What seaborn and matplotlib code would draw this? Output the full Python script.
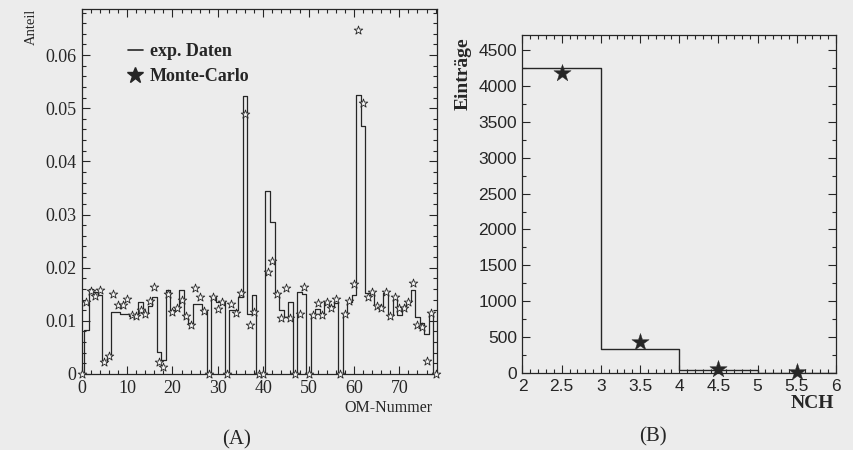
import numpy as np
import pandas as pd
import matplotlib
matplotlib.use("Agg")
import matplotlib.pyplot as plt
from matplotlib.lines import Line2D
from matplotlib.ticker import MultipleLocator
import seaborn as sns

# --- Panel A: fraction per optical module (OM) ---
om_nummer = list(range(79))
anteil_daten = [
    0.0, 0.0083, 0.0159, 0.0155, 0.0148, 0.0023, 0.0033, 0.0117, 0.0117, 0.0112,
    0.0112, 0.0110, 0.0110, 0.0135, 0.0115, 0.0128, 0.0145, 0.0042, 0.0026, 0.0158,
    0.0120, 0.0125, 0.0158, 0.0105, 0.0095, 0.0131, 0.0131, 0.0118, 0.0, 0.0145,
    0.0136, 0.0136, 0.0, 0.0120, 0.0120, 0.0145, 0.0522, 0.0112, 0.0149, 0.0,
    0.0, 0.0345, 0.0285, 0.0152, 0.0120, 0.0108, 0.0136, 0.0, 0.0154, 0.0150,
    0.0, 0.0112, 0.0122, 0.0114, 0.0137, 0.0127, 0.0133, 0.0, 0.0112, 0.0136,
    0.0148, 0.0525, 0.0466, 0.0152, 0.0152, 0.0130, 0.0125, 0.0152, 0.0111, 0.0142,
    0.0111, 0.0122, 0.0136, 0.0158, 0.0108, 0.0095, 0.0075, 0.0115, 0.0,
]
anteil_mc = [
    0.0, 0.0136, 0.0157, 0.0147, 0.0158, 0.0022, 0.0034, 0.0150, 0.0129, 0.0129,
    0.0142, 0.0111, 0.0109, 0.0120, 0.0112, 0.0137, 0.0163, 0.0022, 0.0014, 0.0150,
    0.0116, 0.0125, 0.0139, 0.0109, 0.0093, 0.0161, 0.0144, 0.0118, 0.0, 0.0144,
    0.0122, 0.0136, 0.0, 0.0131, 0.0115, 0.0153, 0.0490, 0.0093, 0.0117, 0.0,
    0.0, 0.0192, 0.0212, 0.0150, 0.0105, 0.0161, 0.0105, 0.0, 0.0113, 0.0163,
    0.0, 0.0111, 0.0133, 0.0111, 0.0136, 0.0124, 0.0142, 0.0, 0.0112, 0.0137,
    0.0169, 0.0648, 0.0510, 0.0145, 0.0155, 0.0127, 0.0125, 0.0154, 0.0110, 0.0144,
    0.0124, 0.0125, 0.0136, 0.0171, 0.0092, 0.0089, 0.0024, 0.0114, 0.0,
]
a_yticks = [0, 0.01, 0.02, 0.03, 0.04, 0.05, 0.06]
a_yticklabels = ["0", "0.01", "0.02", "0.03", "0.04", "0.05", "0.06"]
a_xticks = [0, 10, 20, 30, 40, 50, 60, 70]

# --- Panel B: number of hit channels ---
nch_mitte = [2.5, 3.5, 4.5, 5.5]
eintraege_daten = [4250, 340, 35, 5]
eintraege_mc = [4175, 430, 55, 10]
b_xticks = [2, 2.5, 3, 3.5, 4, 4.5, 5, 5.5, 6]
b_xticklabels = ["2", "2.5", "3", "3.5", "4", "4.5", "5", "5.5", "6"]
b_yticks = list(range(0, 5000, 500))

df_a = pd.DataFrame({"om": om_nummer, "daten": anteil_daten, "mc": anteil_mc})
df_b = pd.DataFrame({"nch": nch_mitte, "daten": eintraege_daten, "mc": eintraege_mc})

sns.set_style("ticks")
paper = "#ececec"
ink = "#262626"
serif = ["Liberation Serif", "DejaVu Serif"]
sans = ["Liberation Sans", "DejaVu Sans"]
plt.rcParams.update({
    "font.family": serif,
    "text.color": ink,
    "axes.edgecolor": ink,
    "xtick.color": ink,
    "ytick.color": ink,
    "axes.linewidth": 0.9,
})

fig = plt.figure(figsize=(8.54, 4.5), dpi=100, facecolor=paper)
axA = fig.add_axes([0.0957, 0.1689, 0.4160, 0.8104])
axB = fig.add_axes([0.6118, 0.1711, 0.3671, 0.7511])
for ax in (axA, axB):
    ax.set_facecolor(paper)

# Panel A histogram and MC points
sns.histplot(data=df_a, x="om", weights="daten",
             bins=[i - 0.5 for i in range(80)],
             element="step", fill=False, color=ink, linewidth=0.9, ax=axA)
sns.scatterplot(data=df_a, x="om", y="mc", marker="*", s=42, color="#f4f4f4",
                edgecolor=ink, linewidth=0.6, zorder=3, ax=axA, clip_on=False)
axA.set_xlim(0, 78.3)
axA.set_ylim(0, 0.0686)
axA.set_xticks(a_xticks)
axA.set_xticklabels([str(t) for t in a_xticks])
axA.set_yticks(a_yticks)
axA.set_yticklabels(a_yticklabels)
axA.xaxis.set_minor_locator(MultipleLocator(2))
axA.yaxis.set_minor_locator(MultipleLocator(0.002))
axA.set_xlabel("")
axA.set_ylabel("")

handles = [Line2D([], [], color=ink, lw=1.2),
           Line2D([], [], marker="*", ls="none", color=ink, markersize=12)]
axA.legend(handles, ["exp. Daten", "Monte-Carlo"], loc="upper left",
           bbox_to_anchor=(0.085, 0.952), frameon=False,
           prop=dict(family=serif, weight="bold", size=13),
           handlelength=0.8, handletextpad=0.4, labelspacing=0.45)

# Panel B histogram and MC points
sns.histplot(data=df_b, x="nch", weights="daten", bins=[2, 3, 4, 5, 6],
             element="step", fill=False, color=ink, linewidth=1.0, ax=axB)
sns.scatterplot(data=df_b, x="nch", y="mc", marker="*", s=170, color=ink,
                edgecolor=ink, linewidth=0.3, zorder=3, ax=axB, clip_on=False)
axB.set_xlim(2, 6)
axB.set_ylim(0, 4710)
axB.set_xticks(b_xticks)
axB.set_xticklabels(b_xticklabels)
axB.set_yticks(b_yticks)
axB.set_yticklabels([str(t) for t in b_yticks])
axB.xaxis.set_minor_locator(MultipleLocator(0.1))
axB.yaxis.set_minor_locator(MultipleLocator(250))
axB.set_xlabel("")
axB.set_ylabel("")

for ax, fam in ((axA, serif), (axB, sans)):
    ax.tick_params(which="both", direction="in", top=True, right=True, width=0.8)
    ax.tick_params(which="major", length=6, labelsize=13, pad=4)
    ax.tick_params(which="minor", length=3)
    for lab in ax.get_xticklabels() + ax.get_yticklabels():
        lab.set_family(fam)
    for s in ax.spines.values():
        s.set_visible(True)

axB.tick_params(which="major", labelsize=12.5)

fig.text(31 / 854, 1 - 27 / 450, "Anteil", rotation=90, ha="center", va="center", fontsize=10.5)
fig.text(433 / 854, 1 - 408 / 450, "OM-Nummer", ha="right", va="center", fontsize=11.5)
fig.text(237 / 854, 1 - 440 / 450, "(A)", ha="center", va="center", fontsize=15)
fig.text(463 / 854, 1 - 74 / 450, "Einträge", rotation=90, ha="center", va="center",
         fontsize=14, fontweight="bold")
fig.text(834 / 854, 1 - 403 / 450, "NCH", ha="right", va="center", fontsize=14,
         fontweight="bold")
fig.text(653 / 854, 1 - 437 / 450, "(B)", ha="center", va="center", fontsize=15)

fig.savefig("out.png", dpi=100, facecolor=paper)
